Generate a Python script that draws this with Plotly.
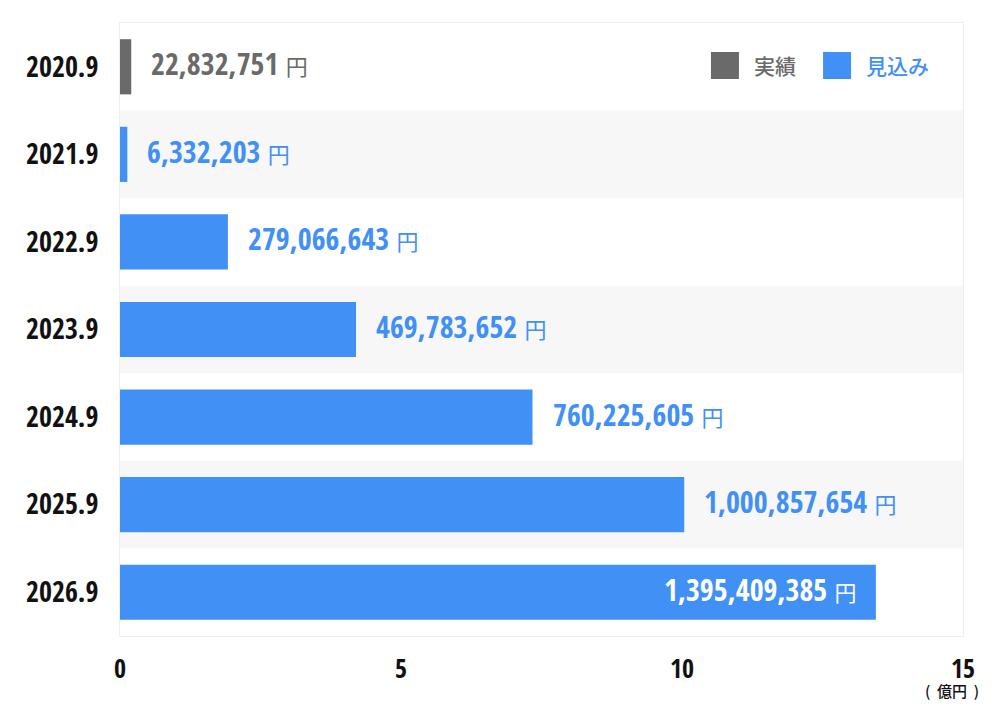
import plotly.graph_objects as go

categories = ["2020.9", "2021.9", "2022.9", "2023.9", "2024.9", "2025.9", "2026.9"]
bar_values = [0.20, 0.13, 1.92, 4.20, 7.34, 10.04, 13.45]  # 億円 (as drawn)
label_texts = ["22,832,751", "6,332,203", "279,066,643", "469,783,652",
               "760,225,605", "1,000,857,654", "1,395,409,385"]
kinds = ["実績", "見込み", "見込み", "見込み", "見込み", "見込み", "見込み"]
x_ticks = [0, 5, 10, 15]

GRAY = "#6a6a6a"
BLUE = "#4190f5"
colors = {"実績": GRAY, "見込み": BLUE}
NUM_FONT = "Open Sans Condensed, Roboto Condensed, Noto Sans CJK JP, sans-serif"
CJK_FONT = "Noto Sans CJK JP, sans-serif"

n = len(categories)
fig = go.Figure()
fig.add_trace(go.Bar(
    y=categories, x=bar_values, orientation="h",
    marker=dict(color=[colors[k] for k in kinds], line=dict(width=0)),
    hoverinfo="skip", showlegend=False,
))

# alternating row bands
for i in range(n):
    if i % 2 == 1:
        fig.add_shape(type="rect", xref="x domain", yref="y", x0=0, x1=1,
                      y0=i - 0.5, y1=i + 0.5, fillcolor="#f7f7f7", line_width=0, layer="below")

# value labels
for i, (v, t, k) in enumerate(zip(bar_values, label_texts, kinds)):
    inside = v > 12
    col = "#ffffff" if inside else colors[k]
    fig.add_annotation(
        x=v, y=i, xref="x", yref="y",
        text=t + ' <span style="font-family:Noto Sans CJK JP;font-size:22px;font-weight:400">円</span>',
        showarrow=False,
        xanchor="right" if inside else "left",
        xshift=-17 if inside else 18, yshift=3,
        font=dict(family=NUM_FONT, size=30, color=col, weight=500),
    )

# custom legend
legend_items = [("実績", GRAY, 0.701), ("見込み", BLUE, 0.834)]
for name, col, px in legend_items:
    fig.add_shape(type="rect", xref="paper", yref="paper",
                  x0=px, x1=px + 0.0332, y0=0.9527, y1=0.9086,
                  fillcolor=col, line_width=0)
    fig.add_annotation(xref="paper", yref="paper", x=px + 0.049, y=0.9315,
                       text=name, showarrow=False, xanchor="left", yanchor="middle",
                       font=dict(family=CJK_FONT, size=21, color=col, weight=500))

# unit label
fig.add_annotation(xref="paper", yref="paper", x=1.021, y=-0.089, text="(  億円  )",
                   showarrow=False, xanchor="right", yanchor="middle",
                   font=dict(family=CJK_FONT, size=15, color="#111111", weight=500))

fig.update_layout(
    width=1000, height=718,
    margin=dict(l=112, r=45, t=15, b=90),
    paper_bgcolor="#ffffff", plot_bgcolor="#ffffff",
    bargap=0.37,
    xaxis=dict(range=[0, 15], tickvals=x_ticks, showgrid=False, zeroline=False,
               showline=True, linecolor="#eeeeee", mirror=True, ticks="",
               ticklabelstandoff=10, automargin=False,
               tickfont=dict(family=NUM_FONT, size=26, color="#111111", weight="bold")),
    yaxis=dict(type="category", range=[n - 0.5, -0.5], showgrid=False, zeroline=False,
               showline=True, linecolor="#eeeeee", mirror=True, ticks="",
               ticklabelstandoff=15, automargin=False,
               tickfont=dict(family=NUM_FONT, size=28, color="#111111", weight="bold")),
)

fig.write_html("out.html")
